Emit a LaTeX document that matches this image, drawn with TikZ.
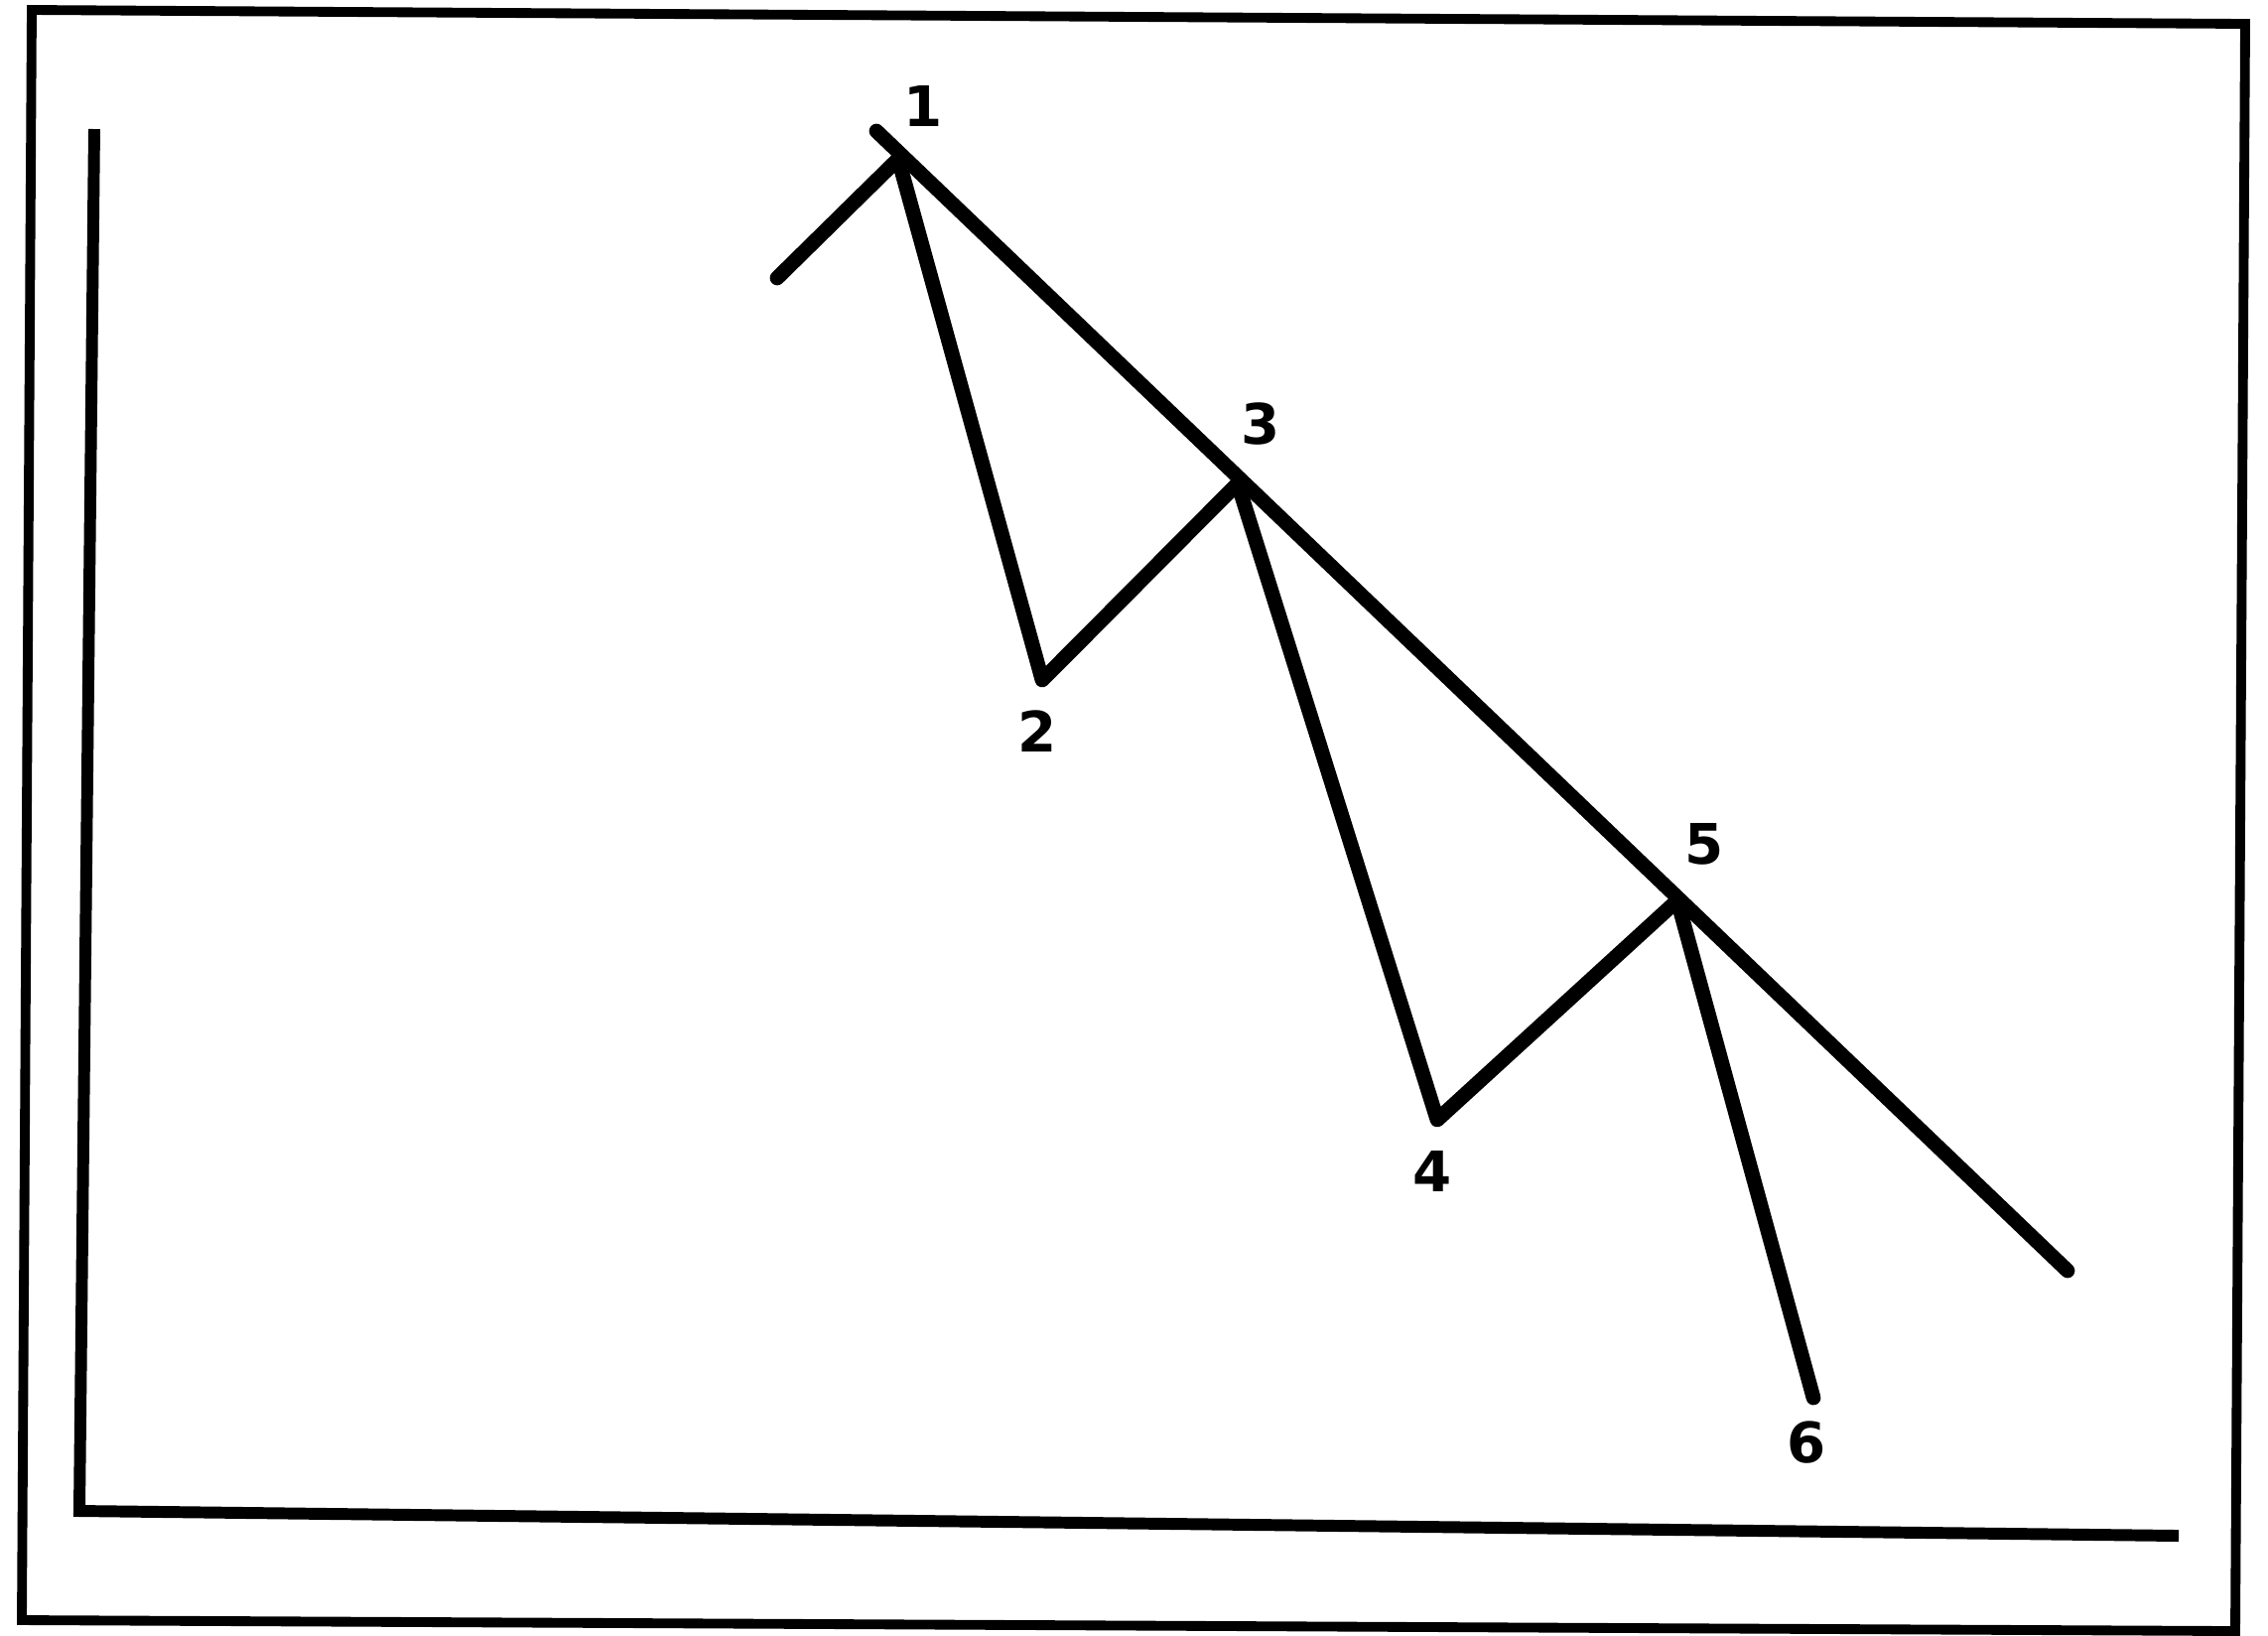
\documentclass[tikz,border=0pt]{standalone}
\usepackage{fontspec}
\setmainfont{DejaVu Sans}
\begin{document}
\begin{tikzpicture}[x=0.01cm,y=-0.01cm,
  frameline/.style={line width=2.8pt,line join=miter},
  axisline/.style={line width=3.4pt,line join=miter},
  waveline/.style={line width=4.2pt,line cap=round,line join=round},
  lbl/.style={font=\bfseries\fontsize{16}{18}\selectfont,inner sep=0pt}]
\useasboundingbox[fill=white] (0,0) rectangle (2285,1647);
% outer frame
\coordinate (f1) at (32,10);
\coordinate (f2) at (2262,24);
\coordinate (f3) at (2252,1643);
\coordinate (f4) at (22,1632);
\draw[frameline] (f1) -- (f2) -- (f3) -- (f4) -- cycle;
% axes
\coordinate (ay) at (95,130);
\coordinate (ao) at (80,1522);
\coordinate (ax) at (2195,1547);
\draw[axisline] (ay) -- (ao) -- (ax);
% wave points
\coordinate (p0) at (783,280);
\coordinate (p1) at (905,160);
\coordinate (p2) at (1050,685);
\coordinate (p3) at (1247,487);
\coordinate (p4) at (1448,1128);
\coordinate (p5) at (1690,907);
\coordinate (p6) at (1827,1408);
\draw[waveline] (p0) -- (p1) -- (p2) -- (p3) -- (p4) -- (p5) -- (p6);
% trend line
\coordinate (t0) at (883,132);
\coordinate (t1) at (2083,1280);
\draw[waveline] (t0) -- (t1);
% labels
\node[lbl] (l1) at (930,107) {1};
\node[lbl] (l2) at (1045,737) {2};
\node[lbl] (l3) at (1270,427) {3};
\node[lbl] (l4) at (1443,1180) {4};
\node[lbl] (l5) at (1717,850) {5};
\node[lbl] (l6) at (1820,1453) {6};
\end{tikzpicture}
\end{document}
